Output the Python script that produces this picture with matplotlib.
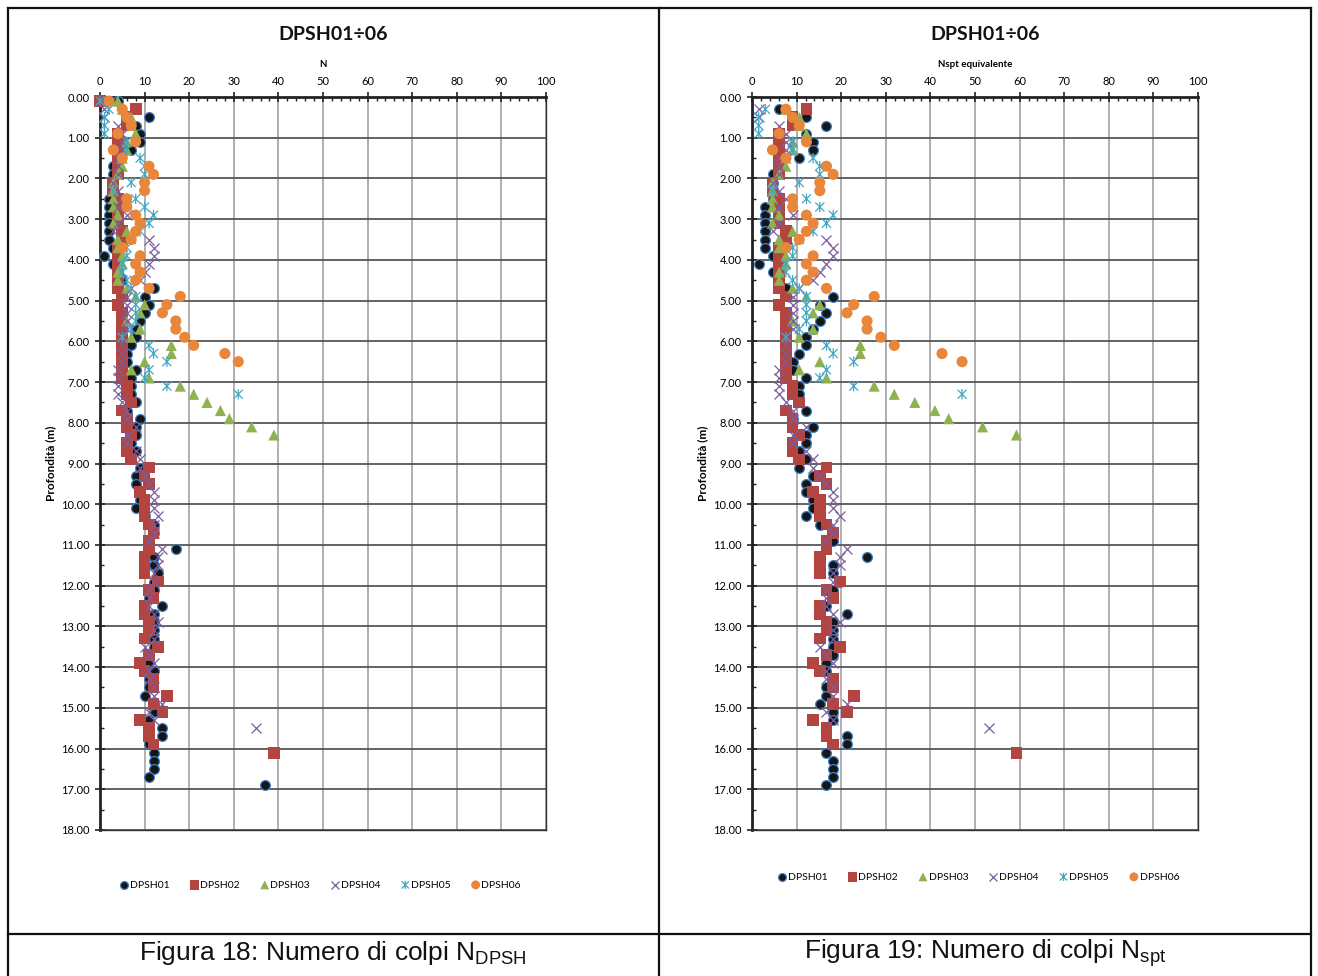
import numpy as np
import matplotlib
matplotlib.use("Agg")
import matplotlib.pyplot as plt
from matplotlib.lines import Line2D
from matplotlib.path import Path
from matplotlib.ticker import MultipleLocator, FormatStrFormatter

plt.rcParams['font.family'] = ['Lato', 'DejaVu Sans']
plt.rcParams['mathtext.fontset'] = 'custom'
plt.rcParams['mathtext.rm'] = 'Liberation Sans'

series = ["DPSH01", "DPSH02", "DPSH03", "DPSH04", "DPSH05", "DPSH06"]

# N DPSH (blows / 20 cm), first reading at 0.1 m, one reading every 0.2 m
n_dpsh01 = [4, 8, 11, 8, 9, 9, 7, 4, 3, 3,
            3, 3, 2, 2, 2, 2, 2, 2, 3, 1,
            3, 4, 5, 12, 10, 11, 10, 9, 8, 8,
            7, 6, 6, 8, 7, 7, 7, 8, 6, 9,
            8, 8, 7, 8, 7, 9, 8, 8, 9, 9,
            8, 10, 12, 12, 11, 17, 12, 12, 13, 12,
            12, 11, 14, 12, 12, 12, 12, 12, 11, 11,
            12, 11, 11, 10, 12, 12, 11, 14, 14, 11,
            12, 12, 12, 11, 37]
n_dpsh02 = [0, 8, 6, 6, 4, 4, 4, 4, 4, 4,
            3, 3, 4, 4, 4, 4, 5, 5, 4, 4,
            4, 4, 4, 4, 5, 4, 5, 5, 5, 5,
            5, 5, 5, 5, 5, 6, 6, 7, 5, 6,
            6, 7, 6, 6, 7, 11, 10, 11, 9, 10,
            10, 10, 11, 12, 11, 11, 10, 10, 10, 13,
            11, 12, 10, 10, 11, 11, 10, 13, 11, 9,
            10, 12, 12, 15, 12, 14, 9, 11, 11, 12,
            39]
n_dpsh03 = [4, 5, 7, 7, 8, 6, 6, 5, 5, 4,
            3, 3, 3, 3, 4, 3, 6, 4, 4, 5,
            5, 4, 4, 6, 8, 10, 9, 6, 9, 7,
            16, 16, 10, 7, 11, 18, 21, 24, 27, 29,
            34, 39]
n_dpsh04 = [0, 1, 1, 4, 5, 5, 5, 4, 4, 4,
            3, 4, 5, 4, 6, 4, 3, 11, 12, 12,
            11, 10, 9, 7, 6, 6, 6, 6, 6, 5,
            5, 5, 5, 4, 4, 4, 4, 5, 6, 6,
            8, 6, 6, 8, 9, 9, 10, 11, 12, 12,
            12, 13, 12, 12, 11, 14, 13, 13, 12, 12,
            11, 11, 11, 12, 13, 12, 12, 10, 11, 12,
            11, 11, 12, 12, 14, 11, 12, 35]
n_dpsh05 = [0, 2, 1, 1, 1, 6, 6, 9, 10, 10,
            7, 3, 8, 10, 12, 11, 9, 7, 6, 6,
            5, 5, 6, 7, 8, 8, 8, 8, 7, 5,
            11, 12, 15, 11, 10, 15, 31]
n_dpsh06 = [2, 5, 6, 7, 4, 8, 3, 5, 11, 12,
            10, 10, 6, 6, 8, 9, 8, 7, 5, 9,
            8, 9, 8, 11, 18, 15, 14, 17, 17, 19,
            21, 28, 31]

# Nspt equivalente, first reading at 0.3 m, one reading every 0.2 m
nspt_dpsh01 = [6.1, 12.2, 16.7, 12.2, 13.7, 13.7, 10.6, 6.1, 4.6, 4.6,
               4.6, 4.6, 3.0, 3.0, 3.0, 3.0, 3.0, 3.0, 4.6, 1.5,
               4.6, 6.1, 7.6, 18.2, 15.2, 16.7, 15.2, 13.7, 12.2, 12.2,
               10.6, 9.1, 9.1, 12.2, 10.6, 10.6, 10.6, 12.2, 9.1, 13.7,
               12.2, 12.2, 10.6, 12.2, 10.6, 13.7, 12.2, 12.2, 13.7, 13.7,
               12.2, 15.2, 18.2, 18.2, 16.7, 25.8, 18.2, 18.2, 19.8, 18.2,
               18.2, 16.7, 21.3, 18.2, 18.2, 18.2, 18.2, 18.2, 16.7, 16.7,
               18.2, 16.7, 16.7, 15.2, 18.2, 18.2, 16.7, 21.3, 21.3, 16.7,
               18.2, 18.2, 18.2, 16.7]
nspt_dpsh02 = [12.2, 9.1, 9.1, 6.1, 6.1, 6.1, 6.1, 6.1, 6.1,
               4.6, 4.6, 6.1, 6.1, 6.1, 6.1, 7.6, 7.6, 6.1, 6.1,
               6.1, 6.1, 6.1, 6.1, 7.6, 6.1, 7.6, 7.6, 7.6, 7.6,
               7.6, 7.6, 7.6, 7.6, 7.6, 9.1, 9.1, 10.6, 7.6, 9.1,
               9.1, 10.6, 9.1, 9.1, 10.6, 16.7, 15.2, 16.7, 13.7, 15.2,
               15.2, 15.2, 16.7, 18.2, 16.7, 16.7, 15.2, 15.2, 15.2, 19.8,
               16.7, 18.2, 15.2, 15.2, 16.7, 16.7, 15.2, 19.8, 16.7, 13.7,
               15.2, 18.2, 18.2, 22.8, 18.2, 21.3, 13.7, 16.7, 16.7, 18.2,
               59.3]
nspt_dpsh03 = [7.6, 10.6, 10.6, 12.2, 9.1, 9.1, 7.6, 7.6, 6.1,
               4.6, 4.6, 4.6, 4.6, 6.1, 4.6, 9.1, 6.1, 6.1, 7.6,
               7.6, 6.1, 6.1, 9.1, 12.2, 15.2, 13.7, 9.1, 13.7, 10.6,
               24.3, 24.3, 15.2, 10.6, 16.7, 27.4, 31.9, 36.5, 41.0, 44.1,
               51.7, 59.3]
nspt_dpsh04 = [1.5, 1.5, 6.1, 7.6, 7.6, 7.6, 6.1, 6.1, 6.1,
               4.6, 6.1, 7.6, 6.1, 9.1, 6.1, 4.6, 16.7, 18.2, 18.2,
               16.7, 15.2, 13.7, 10.6, 9.1, 9.1, 9.1, 9.1, 9.1, 7.6,
               7.6, 7.6, 7.6, 6.1, 6.1, 6.1, 6.1, 7.6, 9.1, 9.1,
               12.2, 9.1, 9.1, 12.2, 13.7, 13.7, 15.2, 16.7, 18.2, 18.2,
               18.2, 19.8, 18.2, 18.2, 16.7, 21.3, 19.8, 19.8, 18.2, 18.2,
               16.7, 16.7, 16.7, 18.2, 19.8, 18.2, 18.2, 15.2, 16.7, 18.2,
               16.7, 16.7, 18.2, 18.2, 21.3, 16.7, 18.2, 53.2]
nspt_dpsh05 = [3.0, 1.5, 1.5, 1.5, 9.1, 9.1, 13.7, 15.2, 15.2,
               10.6, 4.6, 12.2, 15.2, 18.2, 16.7, 13.7, 10.6, 9.1, 9.1,
               7.6, 7.6, 9.1, 10.6, 12.2, 12.2, 12.2, 12.2, 10.6, 7.6,
               16.7, 18.2, 22.8, 16.7, 15.2, 22.8, 47.1]
nspt_dpsh06 = [7.6, 9.1, 10.6, 6.1, 12.2, 4.6, 7.6, 16.7, 18.2,
               15.2, 15.2, 9.1, 9.1, 12.2, 13.7, 12.2, 10.6, 7.6, 13.7,
               12.2, 13.7, 12.2, 16.7, 27.4, 22.8, 21.3, 25.8, 25.8, 28.9,
               31.9, 42.6, 47.1]

left_data = [n_dpsh01, n_dpsh02, n_dpsh03, n_dpsh04, n_dpsh05, n_dpsh06]
right_data = [nspt_dpsh01, nspt_dpsh02, nspt_dpsh03, nspt_dpsh04, nspt_dpsh05, nspt_dpsh06]
left_start = 0.1
right_start = 0.3
step = 0.2

# asterisk marker like the Excel one (X plus vertical bar)
asterisk = Path([(-1, -1), (1, 1), (-1, 1), (1, -1), (0, -1.15), (0, 1.15)],
                [Path.MOVETO, Path.LINETO, Path.MOVETO, Path.LINETO, Path.MOVETO, Path.LINETO])

styles = [
    dict(marker='o', s=50, facecolors='#161616', edgecolors='#3f80c6', linewidths=0.9),
    dict(marker='s', s=72, facecolors='#b3443f', edgecolors='none'),
    dict(marker='^', s=64, facecolors='#8fb150', edgecolors='none'),
    dict(marker='x', s=52, color='#7b5d9f', linewidths=0.9),
    dict(marker=asterisk, s=56, facecolors='none', edgecolors='#45a7c4', linewidths=0.9),
    dict(marker='o', s=64, facecolors='#e8873b', edgecolors='none'),
]

fig = plt.figure(figsize=(13.18, 9.76), dpi=100)
W, H = 1318.0, 976.0


def setup_axis(ax, xlabel, legend_pos):
    ax.set_xlim(0, 100)
    ax.set_ylim(18, 0)
    ax.xaxis.tick_top()
    ax.xaxis.set_label_position('top')
    ax.xaxis.set_major_locator(MultipleLocator(10))
    ax.xaxis.set_minor_locator(MultipleLocator(2))
    ax.yaxis.set_major_locator(MultipleLocator(1))
    ax.yaxis.set_minor_locator(MultipleLocator(0.5))
    ax.yaxis.set_major_formatter(FormatStrFormatter('%.2f'))
    ax.tick_params(which='major', direction='inout', length=7, width=1.2,
                   labelsize=8, color='#222222', pad=4)
    ax.tick_params(which='minor', direction='in', length=3, width=1, color='#222222')
    ax.tick_params(axis='x', which='both', top=True, bottom=False)
    ax.set_axisbelow(True)
    ax.grid(axis='y', which='major', color='#575757', lw=1.3)
    ax.grid(axis='x', which='major', color='#aaaaaa', lw=1.3)
    for sp in ['top', 'left']:
        ax.spines[sp].set_linewidth(2.0)
        ax.spines[sp].set_color('#222222')
    for sp in ['right', 'bottom']:
        ax.spines[sp].set_linewidth(1.0)
        ax.spines[sp].set_color('#333333')
    ax.set_xlabel(xlabel, fontsize=7, fontweight='bold')
    ax.xaxis.set_label_coords(0.5, 1.041)
    ax.set_ylabel('Profondità (m)', fontsize=8.5, fontweight='bold')
    ax.yaxis.set_label_coords(-0.099, 0.5)
    ax.legend(loc='center', bbox_to_anchor=legend_pos, ncol=6, frameon=False,
              fontsize=7.5, markerscale=0.8, handletextpad=0.05,
              columnspacing=1.9, handlelength=1.0, scatterpoints=1)


panels = [
    (100, left_data, left_start, 'N', (0.493, -0.075), 333, 'Figura 18: Numero di colpi N$_{\\mathrm{DPSH}}$'),
    (752, right_data, right_start, 'Nspt equivalente', (0.507, -0.064), 985, 'Figura 19: Numero di colpi N$_{\\mathrm{spt}}$'),
]

for x0, data, start, xlabel, legend_pos, xc, caption in panels:
    ax = fig.add_axes([x0 / W, (H - 830) / H, 446 / W, 733 / H])
    for name, vals, st in zip(series, data, styles):
        depth = start + step * np.arange(len(vals))
        ax.scatter(vals, depth, label=name, zorder=3, clip_on=False, **st)
    setup_axis(ax, xlabel, legend_pos)
    fig.text(xc / W, 1 - 34 / H, 'DPSH01÷06', ha='center', va='center',
             fontsize=14, fontweight='bold', color='#111111')
    fig.text(xc / W, 1 - 953 / H, caption, ha='center', va='center',
             fontsize=19, family='Liberation Sans', color='#111111')

# page frame around the two figures and their captions
frame = [((8, 8), (1311, 8)), ((8, 934), (1311, 934)),
         ((8, 8), (8, 976)), ((659, 8), (659, 976)), ((1311, 8), (1311, 976))]
for (xa, ya), (xb, yb) in frame:
    fig.add_artist(Line2D([xa / W, xb / W], [1 - ya / H, 1 - yb / H],
                          color='#111111', lw=1.6, transform=fig.transFigure))

fig.savefig('out.png', dpi=100)
